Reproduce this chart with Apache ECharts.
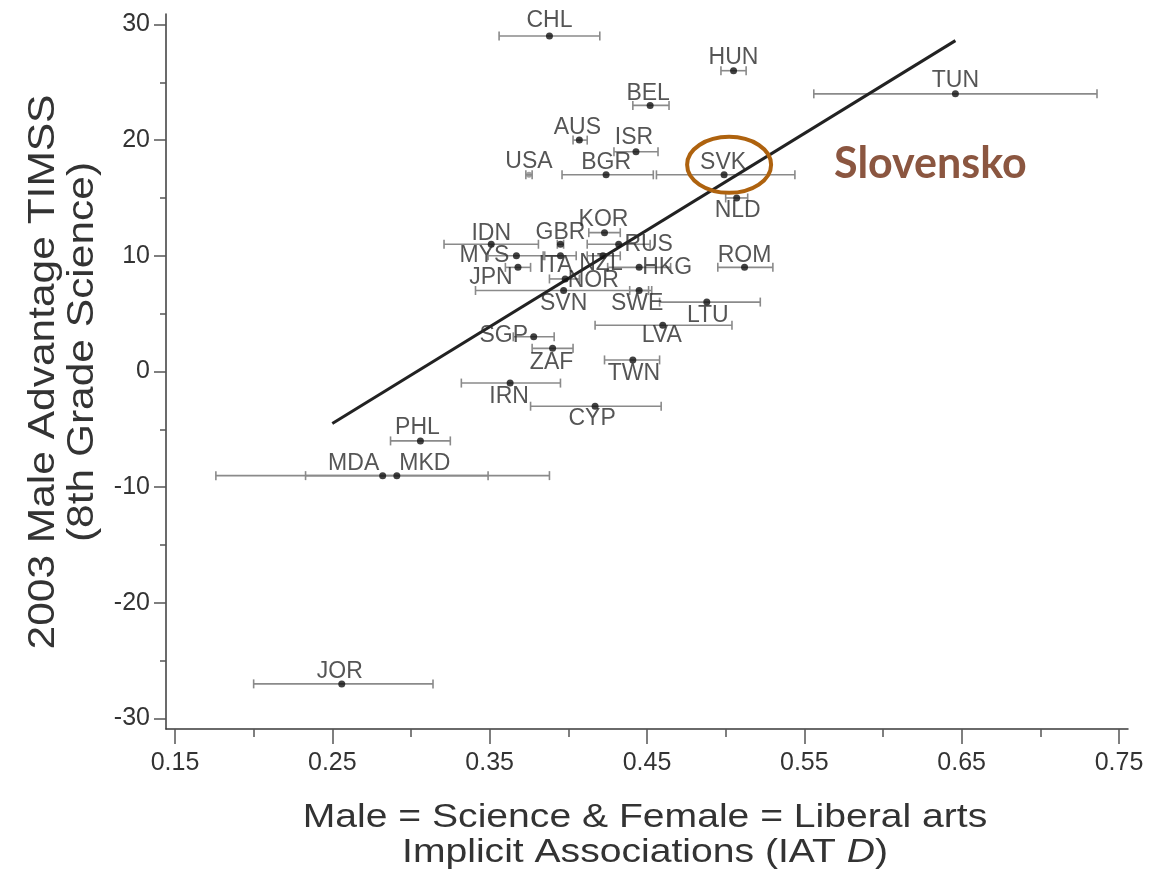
<!DOCTYPE html>
<html>
<head>
<meta charset="utf-8">
<script src="https://cdn.jsdelivr.net/npm/echarts@6/dist/echarts.min.js"></script>
<style>
  html, body { margin: 0; padding: 0; background: #ffffff; }
  #chart { width: 1152px; height: 876px; }
</style>
</head>
<body>
<div id="chart"></div>
<script>
// Country codes
const countries = ['CHL','HUN','BEL','TUN','AUS','ISR','USA','BGR','SVK','NLD',
                   'KOR','IDN','GBR','RUS','MYS','ITA','NZL','HKG','ROM','JPN',
                   'NOR','SVN','SWE','LTU','LVA','SGP','ZAF','TWN','IRN','CYP',
                   'PHL','MDA','MKD','JOR'];
// Mean implicit stereotype (IAT D): Male = Science, Female = Liberal arts
const iatD = [0.388,0.505,0.452,0.646,0.407,0.443,0.375,0.424,0.499,0.507,
              0.423,0.351,0.395,0.432,0.367,0.395,0.422,0.445,0.512,0.368,
              0.398,0.397,0.445,0.488,0.460,0.378,0.390,0.441,0.363,0.417,
              0.306,0.282,0.291,0.256];
// Confidence interval of IAT D, lower and upper bounds
const iatLow = [0.356,0.497,0.441,0.556,0.403,0.429,0.373,0.396,0.456,0.500,
                0.413,0.321,0.393,0.412,0.349,0.384,0.412,0.425,0.495,0.360,
                0.388,0.341,0.439,0.458,0.417,0.365,0.377,0.423,0.332,0.376,
                0.287,0.176,0.233,0.200];
const iatHigh = [0.420,0.513,0.464,0.736,0.412,0.457,0.377,0.454,0.544,0.514,
                 0.433,0.381,0.397,0.452,0.385,0.405,0.433,0.465,0.530,0.376,
                 0.407,0.453,0.451,0.522,0.504,0.391,0.403,0.458,0.395,0.459,
                 0.325,0.388,0.349,0.314];
// 2003 TIMSS male advantage, 8th grade science
const maleAdvantage = [29,26,23,24,20,19,17,17,17,15,
                       12,11,11,11,10,10,10,9,9,9,
                       8,7,7,6,4,3,2,1,-1,-3,
                       -6,-9,-9,-27];
// Fitted regression line end points
const fitX = [0.250, 0.646];
const fitY = [-4.5, 28.6];
// Axis ticks
const xMajorTicks = [0.15,0.25,0.35,0.45,0.55,0.65,0.75];
const xMinorTicks = [0.20,0.30,0.40,0.50,0.60,0.70];
const yMajorTicks = [-30,-20,-10,0,10,20,30];
const yMinorTicks = [-25,-15,-5,5,15,25];
const highlighted = 'SVK';
const highlightText = 'Slovensko';

// Label offsets (text centre relative to the dot, px)
const labelOffsets = {
  CHL:[0,-15], HUN:[0,-13], BEL:[-2,-12], TUN:[0,-13], AUS:[-2,-12], ISR:[-2,-14],
  USA:[0,-13], BGR:[0,-12], SVK:[-1,-12], NLD:[1,13], KOR:[-1,-13], IDN:[0,-11],
  GBR:[0,-12], RUS:[30,0], MYS:[-32,0], ITA:[-5,10], NZL:[-2,8], HKG:[28,0],
  ROM:[0,-12], JPN:[-27,10], NOR:[28,2], SVN:[0,13], SWE:[-2,13], LTU:[1,14],
  LVA:[-1,10], SGP:[-30,-1], ZAF:[-1,14], TWN:[1,14], IRN:[-1,14], CYP:[-3,12],
  PHL:[-3,-13], MDA:[-29,-12], MKD:[28,-12], JOR:[-2,-12]
};

const FONT = 'Liberation Sans, Arial, Helvetica, sans-serif';
const X_MIN = 0.1443, X_MAX = 0.7557, Y_MIN = -30.9, Y_MAX = 30.9;

const pointData = countries.map((c, i) => ({
  name: c,
  value: [iatD[i], maleAdvantage[i]],
  itemStyle: { color: c === 'USA' ? '#8a8a8a' : '#111111' },
  symbolSize: c === 'USA' ? 6 : 7,
  label: {
    show: true,
    formatter: c,
    position: 'inside',
    align: 'center',
    verticalAlign: 'middle',
    offset: labelOffsets[c] || [0, -13]
  }
}));

const barData = countries.map((c, i) => [iatD[i], maleAdvantage[i], iatLow[i], iatHigh[i]]);
const hi = countries.indexOf(highlighted);

const axisLineStyle = { color: '#3a3a3a', width: 1.5 };
const tickStyle = { color: '#555', width: 1.5 };

const option = {
  animation: false,
  backgroundColor: '#ffffff',
  grid: { left: 166, right: 24, top: 14, bottom: 147, containLabel: false, outerBoundsMode: 'none' },
  xAxis: [
    {
      type: 'value', position: 'bottom', min: X_MIN, max: X_MAX,
      axisLine: { show: true, onZero: false, lineStyle: axisLineStyle },
      axisTick: { show: true, length: 15, customValues: xMajorTicks, lineStyle: tickStyle },
      axisLabel: { show: true, customValues: xMajorTicks, margin: 22, fontSize: 25, color: '#333',
                   fontFamily: FONT, formatter: v => v.toFixed(2) },
      splitLine: { show: false }
    },
    {
      type: 'value', position: 'bottom', offset: 0, min: X_MIN, max: X_MAX,
      axisLine: { show: false, onZero: false },
      axisTick: { show: true, length: 8, customValues: xMinorTicks, lineStyle: tickStyle },
      axisLabel: { show: false },
      splitLine: { show: false }
    }
  ],
  yAxis: [
    {
      type: 'value', position: 'left', min: Y_MIN, max: Y_MAX,
      axisLine: { show: true, onZero: false, lineStyle: axisLineStyle },
      axisTick: { show: true, length: 12, customValues: yMajorTicks, lineStyle: tickStyle },
      axisLabel: { show: true, customValues: yMajorTicks, margin: 16, fontSize: 25, color: '#333',
                   fontFamily: FONT },
      splitLine: { show: false }
    },
    {
      type: 'value', position: 'left', offset: 0, min: Y_MIN, max: Y_MAX,
      axisLine: { show: false, onZero: false },
      axisTick: { show: true, length: 6, customValues: yMinorTicks, lineStyle: tickStyle },
      axisLabel: { show: false },
      splitLine: { show: false }
    }
  ],
  graphic: [
    { type: 'text', x: 44, y: 372, rotation: Math.PI / 2, scaleX: 1.18, z: 10,
      style: { text: '2003 Male Advantage TIMSS', fill: '#333', font: '36px ' + FONT,
               align: 'center', verticalAlign: 'middle' } },
    { type: 'text', x: 83, y: 352, rotation: Math.PI / 2, scaleX: 1.18, z: 10,
      style: { text: '(8th Grade Science)', fill: '#333', font: '36px ' + FONT,
               align: 'center', verticalAlign: 'middle' } },
    { type: 'text', x: 645, y: 818, scaleX: 1.15, z: 10,
      style: { text: 'Male = Science & Female = Liberal arts', fill: '#333', font: '34px ' + FONT,
               align: 'center', verticalAlign: 'middle' } },
    { type: 'text', x: 645, y: 853, scaleX: 1.15, z: 10,
      style: { text: '{n|Implicit Associations (IAT }{i|D}{n|)}', fill: '#333', align: 'center', verticalAlign: 'middle',
               rich: { n: { font: '34px ' + FONT, fill: '#333' }, i: { font: 'italic 34px ' + FONT, fill: '#333' } } } }
  ],
  series: [
    {
      // horizontal confidence bars with end caps
      type: 'custom', name: 'ci', xAxisIndex: 0, yAxisIndex: 0, z: 2,
      data: barData,
      encode: { x: [0, 2, 3], y: 1 },
      renderItem: function (params, api) {
        const y = api.value(1);
        const a = api.coord([api.value(2), y]);
        const b = api.coord([api.value(3), y]);
        const cap = 4.5;
        const st = { stroke: '#8a8a8a', lineWidth: 1.6 };
        return { type: 'group', children: [
          { type: 'line', shape: { x1: a[0], y1: a[1], x2: b[0], y2: b[1] }, style: st },
          { type: 'line', shape: { x1: a[0], y1: a[1] - cap, x2: a[0], y2: a[1] + cap }, style: st },
          { type: 'line', shape: { x1: b[0], y1: b[1] - cap, x2: b[0], y2: b[1] + cap }, style: st }
        ] };
      }
    },
    {
      type: 'line', name: 'fit', xAxisIndex: 0, yAxisIndex: 0, z: 3,
      data: fitX.map((x, i) => [x, fitY[i]]),
      showSymbol: false, symbol: 'none',
      lineStyle: { color: '#222222', width: 3 }
    },
    {
      type: 'scatter', name: 'countries', xAxisIndex: 0, yAxisIndex: 0, z: 4,
      symbol: 'circle',
      data: pointData,
      label: { fontSize: 23, color: '#2a2a2a', fontFamily: FONT },
      emphasis: { disabled: true }
    },
    {
      // highlight ring around one country and its caption
      type: 'custom', name: 'highlight', xAxisIndex: 0, yAxisIndex: 0, z: 5,
      data: [[iatD[hi], maleAdvantage[hi]]],
      renderItem: function (params, api) {
        const p = api.coord([api.value(0), api.value(1)]);
        return { type: 'group', children: [
          { type: 'ellipse', shape: { cx: p[0] + 5, cy: p[1] - 10, rx: 42, ry: 28 },
            style: { fill: 'none', stroke: '#AE620E', lineWidth: 4 } },
          { type: 'text', x: p[0] + 110, y: p[1] - 11,
            style: { text: highlightText, fill: '#8B5640', font: 'bold 43px Lato, "Open Sans", sans-serif',
                     align: 'left', verticalAlign: 'middle' } }
        ] };
      }
    }
  ]
};

const chart = echarts.init(document.getElementById('chart'), null, { renderer: 'canvas' });
chart.setOption(option);
</script>
</body>
</html>
